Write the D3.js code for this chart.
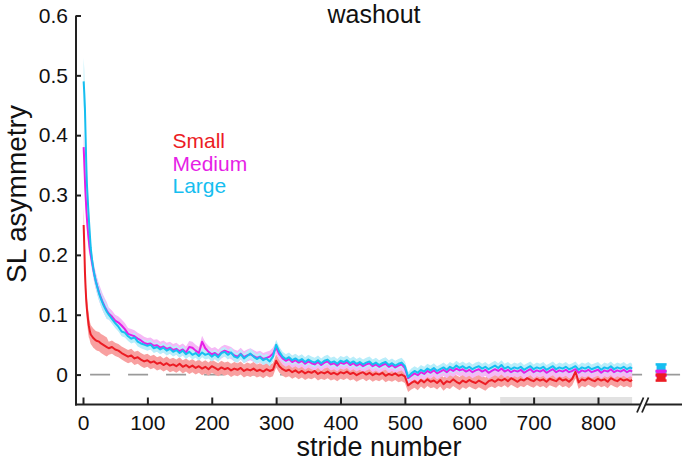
<!DOCTYPE html>
<html lang="en">
<head>
  <meta charset="UTF-8">
  <title>washout - SL asymmetry</title>
  <script src="https://d3js.org/d3.v7.min.js"></script>
  <style>
    body { margin: 0; padding: 0; background: #fff; }
    svg { display: block; font-family: "Liberation Sans", Arial, sans-serif; }
    .axis text { font-size: 21px; fill: #111; }
    .axis line { stroke: #222; stroke-width: 2; }
  </style>
</head>
<body>
<script>
  const earlyStrides = [1,2,3,4,5,6,7,8,9,10,11,12,14,16,18,20,22,25,28,31,34,37,40];
  const strides = earlyStrides.concat(d3.range(45, 851, 5), [853]);

  // SL asymmetry, in units of 0.001
  const smallVals = [
    250,215,172,145,125,110,100,90,82,76,71,67,64,61,59,57,56,55,52,50,48,46,44,
    46,42,40,36,33,30,32,27,29,25,
    22,24,20,22,18,20,16,19,15,17,
    14,18,13,16,12,15,11,14,10,13,
    9,14,11,8,12,9,11,7,10,8,
    11,6,9,7,10,6,8,5,9,6,
    8,23,14,9,6,8,4,7,3,6,
    2,5,3,6,1,4,2,5,1,3,
    0,4,2,5,1,3,-1,2,4,0,
    3,-1,2,0,3,-2,1,-1,2,-2,
    0,-3,-18,-14,-11,-15,-9,-13,-8,-12,
    -10,-14,-9,-16,-11,-13,-8,-12,-15,-10,
    -13,-9,-12,-14,-10,-13,-16,-11,-9,-12,
    -8,-10,-7,-11,-6,-9,-12,-8,-10,-6,
    -9,-11,-7,-10,-8,-12,-7,-9,-11,-6,
    -10,-8,-12,-7,5,-13,-8,-10,-6,-9,
    -11,-7,-10,-8,-12,-6,-9,-11,-7,-10,
    -8,-11,
    -9
  ];
  const mediumVals = [
    380,355,325,300,280,262,248,235,225,215,207,200,188,176,165,156,148,137,128,120,113,107,102,
    97,90,87,82,76,68,66,64,60,57,
    53,51,52,48,49,45,47,43,45,41,
    43,39,42,37,46,45,40,36,55,44,
    38,34,36,32,37,40,38,36,32,30,
    35,29,32,34,31,28,30,26,28,30,
    35,45,34,27,23,26,21,24,20,23,
    18,22,19,17,21,16,20,22,17,19,
    15,20,18,21,16,19,15,18,14,17,
    19,14,17,13,16,18,13,16,12,15,
    17,11,-6,-2,2,-1,4,1,6,3,
    7,2,5,8,4,9,6,10,7,9,
    5,8,4,7,9,5,8,3,6,9,
    6,10,5,8,4,7,5,8,3,6,
    9,4,7,5,8,3,6,9,4,7,
    5,8,4,6,9,3,7,5,8,4,
    6,8,3,7,5,9,4,7,5,8,
    4,7,
    5
  ];
  const largeVals = [
    490,470,445,400,355,320,300,280,262,245,228,212,192,177,165,155,147,135,126,118,111,105,100,
    93,86,80,72,70,64,60,62,55,52,
    50,48,50,44,46,42,45,40,43,38,
    41,36,40,34,38,33,36,31,37,33,
    35,30,34,29,36,38,33,37,30,28,
    34,27,31,35,30,26,29,24,27,22,
    30,50,38,30,26,29,24,27,23,26,
    21,25,22,20,24,19,23,25,20,22,
    18,23,21,24,19,22,18,21,17,20,
    22,17,20,16,19,21,16,19,15,18,
    20,14,-4,2,6,3,8,5,10,7,
    11,6,9,12,8,13,10,15,11,14,
    10,13,9,12,14,10,13,9,12,15,
    11,16,10,13,9,12,10,13,8,11,
    14,9,12,10,13,8,11,14,9,12,
    10,13,9,11,14,8,12,10,13,9,
    11,13,8,12,10,14,9,12,10,13,
    9,12,
    10
  ];

  // half width of the shaded band, stepwise from these strides on
  const bandFrom = [1, 3, 10, 40];
  const smallHalf = [0.03, 0.02, 0.016, 0.011];
  const mediumHalf = [0.03, 0.02, 0.014, 0.01];
  const largeHalf = [0.04, 0.02, 0.012, 0.008];

  // after the axis break: mean and error per group
  const postMeans = [-0.005, 0.002, 0.011];
  const postErr = [0.005, 0.004, 0.006];

  const groups = ["Small", "Medium", "Large"];
  const xTicks = [0, 100, 200, 300, 400, 500, 600, 700, 800];
  const yTicks = [0, 0.1, 0.2, 0.3, 0.4, 0.5, 0.6];
  const shadedStrides = [[300, 500], [648, 853]];

  const lineColor = ["#ec1c24", "#e61ee6", "#16bef0"];
  const bandColor = ["#f8a0a0", "#f6b9f6", "#b8eefa"];

  const W = 685, H = 463;
  const svg = d3.select("body").append("svg").attr("width", W).attr("height", H);

  const x = d3.scaleLinear().domain([0, 800]).range([83, 598]);
  const y = d3.scaleLinear().domain([-0.05, 0.6]).range([404.5, 15.5]);
  const xLeft = 76, xRight = 682;

  const series = [smallVals, mediumVals, largeVals].map((vals, i) => {
    const half = [smallHalf, mediumHalf, largeHalf][i];
    return strides.map((s, j) => {
      const v = vals[j] / 1000;
      const h = half[d3.bisectRight(bandFrom, s) - 1];
      return { s, v, lo: v - h, hi: v + h };
    });
  });

  // grey bars sitting on the x axis
  svg.append("g").selectAll("rect")
    .data(shadedStrides)
    .enter().append("rect")
      .attr("x", d => x(d[0]))
      .attr("width", d => x(d[1]) - x(d[0]))
      .attr("y", y(-0.05) - 7.5)
      .attr("height", 7.5)
      .attr("fill", "#e2e2e2");

  // dashed zero line
  svg.append("line")
    .attr("x1", x(11)).attr("x2", xRight - 1)
    .attr("y1", y(0)).attr("y2", y(0))
    .attr("stroke", "#9a9a9a")
    .attr("stroke-width", 1.6)
    .attr("stroke-dasharray", "20,18");

  const area = d3.area()
    .x(d => x(d.s))
    .y0(d => y(d.lo))
    .y1(d => y(d.hi));
  const line = d3.line()
    .x(d => x(d.s))
    .y(d => y(d.v));

  svg.append("g").selectAll("path")
    .data(series)
    .enter().append("path")
      .attr("d", area)
      .attr("fill", (d, i) => bandColor[i]);

  svg.append("g").selectAll("path")
    .data(series)
    .enter().append("path")
      .attr("d", line)
      .attr("fill", "none")
      .attr("stroke", (d, i) => lineColor[i])
      .attr("stroke-width", 2)
      .attr("stroke-linejoin", "round");

  // post-break markers with error bars (drawn Large first so Small sits on top)
  const px = x(898);
  const post = svg.append("g");
  [2, 1, 0].forEach(i => {
    const m = postMeans[i], e = postErr[i];
    post.append("line")
      .attr("x1", px).attr("x2", px)
      .attr("y1", y(m - e)).attr("y2", y(m + e))
      .attr("stroke", lineColor[i]).attr("stroke-width", 2.5);
    [m - e, m + e].forEach(v => post.append("line")
      .attr("x1", px - 5.5).attr("x2", px + 5.5)
      .attr("y1", y(v)).attr("y2", y(v))
      .attr("stroke", lineColor[i]).attr("stroke-width", 2.5));
    post.append("rect")
      .attr("x", px - 4.5).attr("y", y(m) - 3.5)
      .attr("width", 9).attr("height", 7)
      .attr("fill", lineColor[i]);
  });

  // axes
  const yAxis = d3.axisLeft(y)
    .tickValues(yTicks)
    .tickFormat(d3.format(".1~f"))
    .tickSizeInner(-5)
    .tickSizeOuter(0)
    .tickPadding(8);
  const gy = svg.append("g").attr("class", "axis")
    .attr("transform", `translate(${xLeft},0)`)
    .call(yAxis);
  gy.select(".domain").remove();
  gy.selectAll("text").attr("font-family", null).attr("font-size", null);

  const xAxis = d3.axisBottom(x)
    .tickValues(xTicks)
    .tickSizeInner(-7)
    .tickSizeOuter(0)
    .tickPadding(10.5);
  const gx = svg.append("g").attr("class", "axis")
    .attr("transform", `translate(0,${y(-0.05)})`)
    .call(xAxis);
  gx.select(".domain").remove();
  gx.selectAll("text").attr("font-family", null).attr("font-size", null);

  svg.append("line")
    .attr("x1", xLeft).attr("x2", xLeft)
    .attr("y1", y(-0.05) + 1).attr("y2", y(0.6))
    .attr("stroke", "#222").attr("stroke-width", 2);
  svg.append("line")
    .attr("x1", xLeft - 1).attr("x2", xRight)
    .attr("y1", y(-0.05)).attr("y2", y(-0.05))
    .attr("stroke", "#222").attr("stroke-width", 2);

  // axis break "//"
  const by = y(-0.05);
  svg.append("path")
    .attr("d", `M637,${by + 8}L643.5,${by - 7}L648,${by - 7}L641.5,${by + 8}Z`)
    .attr("fill", "#fff");
  [0, 5].forEach(dx => svg.append("line")
    .attr("x1", 637 + dx).attr("y1", by + 8)
    .attr("x2", 643.5 + dx).attr("y2", by - 7)
    .attr("stroke", "#222").attr("stroke-width", 1.8));

  // labels
  svg.append("text")
    .attr("x", 374).attr("y", 23)
    .attr("text-anchor", "middle")
    .attr("font-size", 25)
    .attr("fill", "#111")
    .text("washout");

  svg.append("text")
    .attr("x", 379).attr("y", 456)
    .attr("text-anchor", "middle")
    .attr("font-size", 27)
    .attr("fill", "#111")
    .text("stride number");

  svg.append("text")
    .attr("transform", "translate(26,194) rotate(-90)")
    .attr("text-anchor", "middle")
    .attr("font-size", 28)
    .attr("fill", "#111")
    .text("SL asymmetry");

  svg.append("g").selectAll("text")
    .data(groups)
    .enter().append("text")
      .attr("x", 172.5)
      .attr("y", (d, i) => 148 + i * 22.5)
      .attr("font-size", 21)
      .attr("fill", (d, i) => lineColor[i])
      .text(d => d);
</script>
</body>
</html>
